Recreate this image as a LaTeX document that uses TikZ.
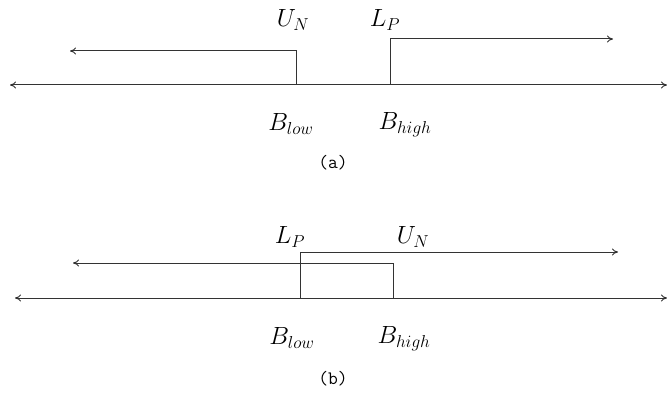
\documentclass[tikz,border=0pt]{standalone}
\usetikzlibrary{arrows.meta}
\begin{document}
\begin{tikzpicture}[x=1pt,y=-1pt,
  ln/.style={line width=1pt,draw=black!80},
  arr/.style={ln,-{To[length=6pt,width=7pt]}},
  darr/.style={ln,{To[length=6pt,width=7pt]}-{To[length=6pt,width=7pt]}},
  lab/.style={inner sep=0pt,font=\fontsize{26}{30}\selectfont},
  captext/.style={inner sep=0pt,font=\fontsize{19}{22}\selectfont\ttfamily}]
\useasboundingbox (0,0) rectangle (667,393);
% ---- (a)
\coordinate (aL) at (10,85);
\coordinate (aR) at (667,85);
\coordinate (aBl) at (296,85);
\coordinate (aBh) at (390,85);
\coordinate (aUt) at (296,51);
\coordinate (aUe) at (70,51);
\coordinate (aLt) at (390,39);
\coordinate (aLe) at (613,39);
\draw[darr] (aL) -- (aR);
\draw[arr] (aBl) -- (aUt) -- (aUe);
\draw[arr] (aBh) -- (aLt) -- (aLe);
\node[lab] (aUN) at (293,20) {$U_N$};
\node[lab] (aLP) at (385,20) {$L_P$};
\node[lab] (aBlow) at (291,124) {$B_{low}$};
\node[lab] (aBhigh) at (405,125) {$B_{high}$};
\node[captext] (acap) at (333,163) {(a)};
% ---- (b)
\coordinate (bL) at (15,298);
\coordinate (bR) at (667,298);
\coordinate (bBl) at (300,298);
\coordinate (bBh) at (393,298);
\coordinate (bLt) at (300,252);
\coordinate (bLe) at (618,252);
\coordinate (bUt) at (393,263);
\coordinate (bUe) at (73,263);
\draw[darr] (bL) -- (bR);
\draw[arr] (bBl) -- (bLt) -- (bLe);
\draw[arr] (bBh) -- (bUt) -- (bUe);
\node[lab] (bLP) at (290,237) {$L_P$};
\node[lab] (bUN) at (413,237) {$U_N$};
\node[lab] (bBlow) at (292,338) {$B_{low}$};
\node[lab] (bBhigh) at (404,339) {$B_{high}$};
\node[captext] (bcap) at (333,379) {(b)};
\end{tikzpicture}
\end{document}
